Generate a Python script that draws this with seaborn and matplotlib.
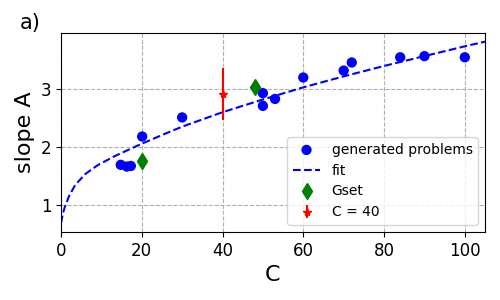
import matplotlib
matplotlib.use("Agg")
import matplotlib.pyplot as plt
import seaborn as sns
import pandas as pd

# generated problems
gen_C = [14.8, 16.3, 17.3, 20.1, 30.0, 50.0, 50.0, 53.0, 60.0, 70.0, 72.0, 84.0, 90.0, 100.0]
gen_A = [1.69, 1.66, 1.67, 2.18, 2.51, 2.93, 2.71, 2.83, 3.20, 3.32, 3.46, 3.55, 3.57, 3.55]

# fit curve
fit_C = [0, 0.5, 1, 2, 3.5, 6, 9, 13, 17, 20, 25, 30, 40, 50, 60, 70, 80, 90, 100, 105]
fit_A = [0.68, 0.86, 0.97, 1.15, 1.34, 1.53, 1.68, 1.83, 1.96, 2.055, 2.205, 2.35, 2.60,
         2.82, 3.03, 3.22, 3.40, 3.57, 3.74, 3.82]

# Gset
gset_C = [20.0, 48.0]
gset_A = [1.75, 3.03]

# C = 40
c40_C = [40.0]
c40_A = [2.91]
c40_err = [0.45]

fig = plt.figure(figsize=(5, 3), dpi=100)
ax = fig.add_axes([0.122, 0.227, 0.848, 0.663])

ax.grid(True, linestyle="--", color="#b0b0b0", linewidth=0.8)
ax.set_axisbelow(True)

gen_df = pd.DataFrame({"C": gen_C, "A": gen_A})
fit_df = pd.DataFrame({"C": fit_C, "A": fit_A})

sns.scatterplot(data=gen_df, x="C", y="A", ax=ax, color="blue", s=55,
                edgecolor="none", label="generated problems", zorder=3)
sns.lineplot(data=fit_df, x="C", y="A", ax=ax, color="blue", linestyle="--",
             linewidth=1.5, label="fit", zorder=2, sort=False)
ax.plot(gset_C, gset_A, linestyle="none", marker="d", color="green",
        markersize=8, label="Gset", zorder=4)
ax.errorbar(c40_C, c40_A, yerr=c40_err, fmt="*", color="red", markersize=6,
            elinewidth=1.5, capsize=0, label="C = 40", zorder=5)

ax.set_xlim(0, 105)
ax.set_ylim(0.53, 3.97)
ax.set_xticks([0, 20, 40, 60, 80, 100])
ax.set_yticks([1, 2, 3])
ax.tick_params(labelsize=12)
ax.set_xlabel("C", fontsize=16)
ax.set_ylabel("slope A", fontsize=16)

ax.legend(loc="lower right", fontsize=10, framealpha=0.8)

fig.text(0.04, 0.905, "a)", fontsize=15)

fig.savefig("out.png", dpi=100)
